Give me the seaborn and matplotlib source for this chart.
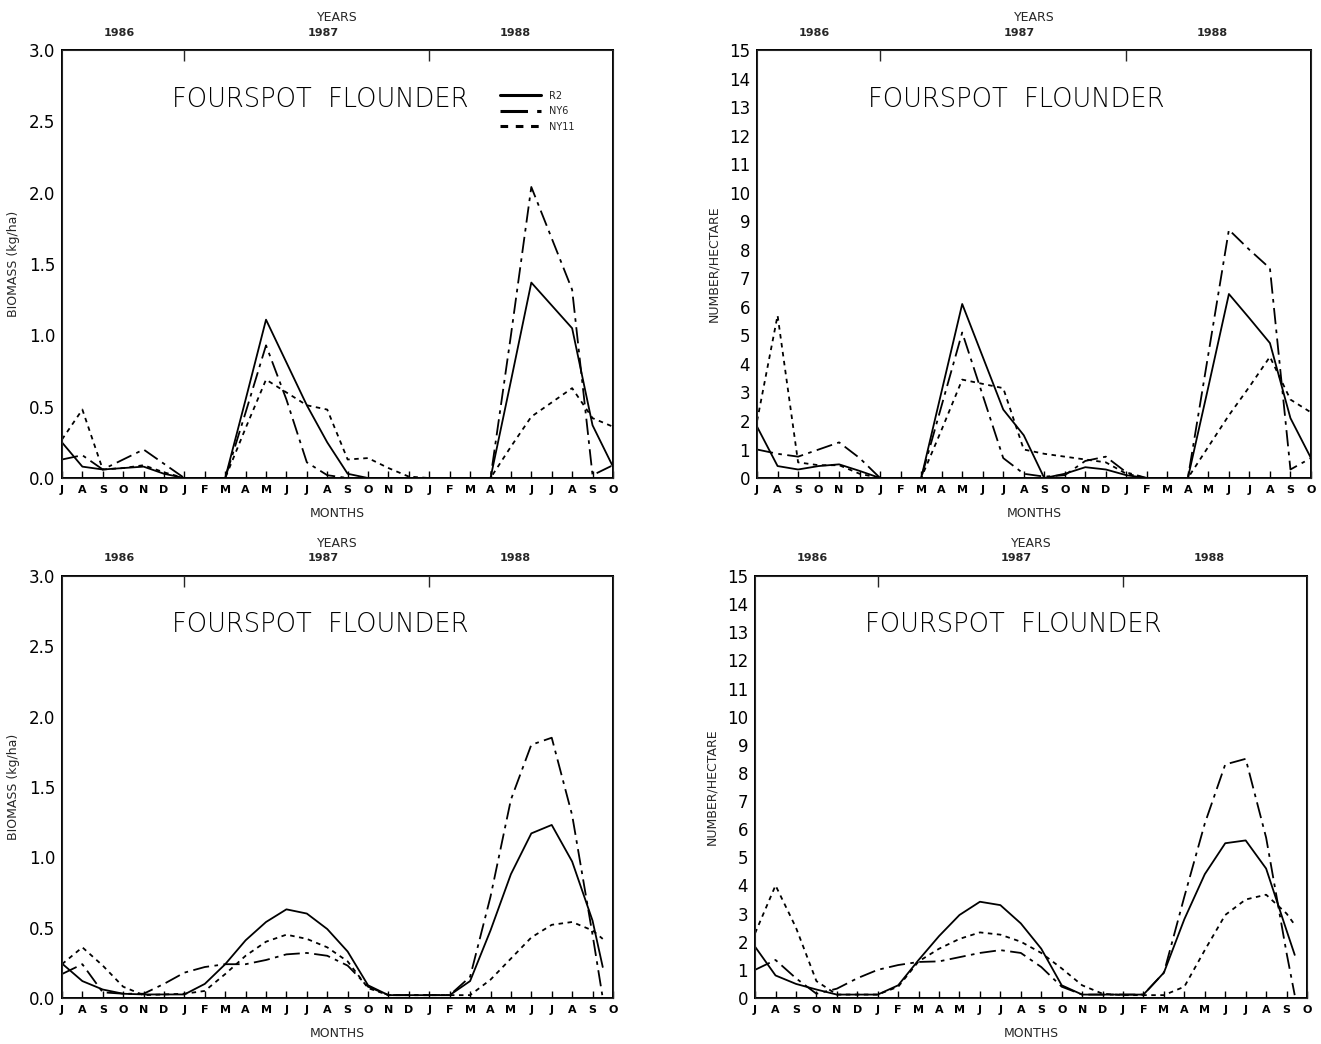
import numpy as np
import pandas as pd
import seaborn as sns
import matplotlib
matplotlib.use("Agg")
import matplotlib.pyplot as plt

# month axis: Jul 1986 .. Oct 1988
month_labels = list("JASONDJFMAMJJASONDJFMAMJJASO")
months = list(range(28))
year_labels = ["1986", "1987", "1988"]
stations = ["R2", "NY6", "NY11"]

# top-left: biomass (kg/ha), monthly
tl_r2 = [0.25, 0.08, 0.06, 0.07, 0.08, 0.03, 0, 0, 0, 0.55, 1.11, 0.81, 0.51, 0.25,
         0.03, 0, 0, 0, 0, 0, 0, 0, 0.68, 1.37, 1.21, 1.05, 0.37, 0.08]
tl_ny6 = [0.13, 0.16, 0.06, 0.13, 0.20, 0.10, 0, 0, 0, 0.46, 0.93, 0.55, 0.11, 0.02,
          0, 0, 0, 0, 0, 0, 0, 0, 1.00, 2.04, 1.68, 1.32, 0.02, 0.09]
tl_ny11 = [0.27, 0.48, 0.06, 0.07, 0.09, 0.04, 0, 0, 0, 0.35, 0.69, 0.60, 0.51, 0.48,
           0.13, 0.14, 0.07, 0.01, 0, 0, 0, 0, 0.22, 0.43, 0.53, 0.63, 0.42, 0.36]

# top-right: number / hectare, monthly
tr_r2 = [1.8, 0.42, 0.30, 0.42, 0.48, 0.25, 0, 0, 0, 3.05, 6.1, 4.25, 2.4, 1.5,
         0, 0.15, 0.38, 0.30, 0.10, 0, 0, 0, 3.2, 6.45, 5.6, 4.73, 2.1, 0.7]
tr_ny6 = [1.0, 0.85, 0.75, 1.0, 1.25, 0.7, 0, 0, 0, 2.55, 5.1, 2.9, 0.7, 0.15,
          0.05, 0.10, 0.60, 0.75, 0.20, 0, 0, 0, 4.35, 8.7, 8.0, 7.35, 0.3, 0.7]
tr_ny11 = [2.0, 5.7, 0.55, 0.45, 0.45, 0.15, 0, 0, 0, 1.7, 3.45, 3.3, 3.15, 1.0,
           0.85, 0.75, 0.65, 0.55, 0.15, 0, 0, 0, 1.1, 2.2, 3.2, 4.25, 2.75, 2.3]

# bottom-left: smoothed biomass (kg/ha)
bl_x = list(range(27)) + [26.5]
bl_r2 = [0.245, 0.12, 0.06, 0.03, 0.025, 0.025, 0.025, 0.10, 0.24, 0.41, 0.54, 0.63, 0.60, 0.49,
         0.33, 0.09, 0.02, 0.02, 0.02, 0.02, 0.12, 0.48, 0.88, 1.17, 1.23, 0.97, 0.55, 0.22]
bl_ny6 = [0.17, 0.24, 0.04, 0.03, 0.03, 0.10, 0.18, 0.22, 0.24, 0.24, 0.27, 0.31, 0.32, 0.30,
          0.23, 0.08, 0.02, 0.02, 0.02, 0.02, 0.15, 0.72, 1.41, 1.80, 1.85, 1.30, 0.45, 0.0]
bl_ny11 = [0.24, 0.36, 0.23, 0.08, 0.02, 0.025, 0.03, 0.05, 0.17, 0.30, 0.40, 0.45, 0.42, 0.36,
           0.26, 0.07, 0.02, 0.02, 0.02, 0.02, 0.02, 0.13, 0.28, 0.43, 0.52, 0.54, 0.48, 0.42]

# bottom-right: smoothed number / hectare
br_x = list(range(27)) + [26.4]
br_r2 = [1.82, 0.8, 0.5, 0.3, 0.12, 0.12, 0.12, 0.45, 1.35, 2.2, 2.95, 3.42, 3.3, 2.65,
         1.75, 0.45, 0.12, 0.12, 0.12, 0.12, 0.9, 2.8, 4.4, 5.5, 5.6, 4.6, 2.4, 1.53]
br_ny6 = [1.0, 1.35, 0.7, 0.15, 0.33, 0.7, 1.0, 1.17, 1.28, 1.3, 1.45, 1.6, 1.7, 1.6,
          1.1, 0.4, 0.12, 0.12, 0.12, 0.12, 0.9, 3.6, 6.2, 8.3, 8.5, 5.7, 1.6, 0.1]
br_ny11 = [2.3, 4.0, 2.5, 0.6, 0.12, 0.12, 0.12, 0.4, 1.3, 1.75, 2.1, 2.33, 2.25, 2.0,
           1.6, 1.05, 0.45, 0.15, 0.1, 0.1, 0.1, 0.4, 1.7, 2.95, 3.5, 3.67, 3.0, 2.6]

sns.set_style("white")
plt.rcParams["font.family"] = ["DejaVu Sans"]

dash_map = {"R2": "", "NY6": (9, 3, 2, 3), "NY11": (2.5, 2.5)}
year_pos = [2.8, 12.8, 22.2]


def make_df(x, r2, ny6, ny11):
    return pd.DataFrame({
        "month": list(x) * 3,
        "value": list(r2) + list(ny6) + list(ny11),
        "station": ["R2"] * len(x) + ["NY6"] * len(x) + ["NY11"] * len(x),
    })


def draw_panel(rect, df, kind, legend=False):
    ax = fig.add_axes(rect)
    sns.lineplot(data=df, x="month", y="value", style="station", style_order=stations,
                 dashes=dash_map, color="black", estimator=None, linewidth=1.3,
                 legend=legend, ax=ax)
    ax.set_xlim(0, 27)
    if kind == "bio":
        ax.set_ylim(0, 3.0)
        ax.set_yticks(np.arange(0, 3.01, 0.5))
        ax.set_yticklabels([f"{v:.1f}" for v in np.arange(0, 3.01, 0.5)], fontsize=12)
        ax.set_ylabel("BIOMASS (kg/ha)", fontsize=9, labelpad=6)
    else:
        ax.set_ylim(0, 15)
        ax.set_yticks(range(16))
        ax.set_yticklabels([str(v) for v in range(16)], fontsize=12)
        ax.set_ylabel("NUMBER/HECTARE", fontsize=9, labelpad=6)
    ax.set_xticks(months)
    ax.set_xticklabels(month_labels, fontsize=8, fontweight="bold")
    ax.set_xlabel("MONTHS", fontsize=9, labelpad=9)
    ax.tick_params(direction="in", length=5, width=1, pad=5, colors="black")
    for s in ax.spines.values():
        s.set_linewidth(1.4)
        s.set_color("black")
    ax.text(0.2, 0.885, "FOURSPOT  FLOUNDER", transform=ax.transAxes,
            fontsize=18.5, va="center", ha="left", color="black", fontweight="light")

    top = ax.twiny()
    top.set_xlim(ax.get_xlim())
    top.set_xticks([6, 18])
    top.set_xticklabels(["", ""])
    top.set_xticks(year_pos, minor=True)
    top.set_xticklabels(year_labels, minor=True, fontsize=8, fontweight="bold")
    top.tick_params(which="major", direction="in", length=8, width=1)
    top.tick_params(which="minor", length=0, pad=9)
    top.set_xlabel("YEARS", fontsize=9, labelpad=5)

    if legend:
        handles, labels = ax.get_legend_handles_labels()
        for h in handles:
            h.set_linewidth(2.2)
        ax.legend(handles, labels, loc="upper left", bbox_to_anchor=(0.78, 0.925),
                  frameon=False, fontsize=7, handlelength=4.2, labelspacing=0.55,
                  handletextpad=0.8)
    return ax


fig = plt.figure(figsize=(13.21, 10.44), dpi=100)

draw_panel([0.0469, 0.5421, 0.4171, 0.4100], make_df(months, tl_r2, tl_ny6, tl_ny11), "bio", legend=True)
draw_panel([0.5731, 0.5421, 0.4193, 0.4100], make_df(months, tr_r2, tr_ny6, tr_ny11), "num")
draw_panel([0.0469, 0.0441, 0.4171, 0.4042], make_df(bl_x, bl_r2, bl_ny6, bl_ny11), "bio")
draw_panel([0.5716, 0.0441, 0.4178, 0.4042], make_df(br_x, br_r2, br_ny6, br_ny11), "num")

fig.savefig("out.png", dpi=100)
